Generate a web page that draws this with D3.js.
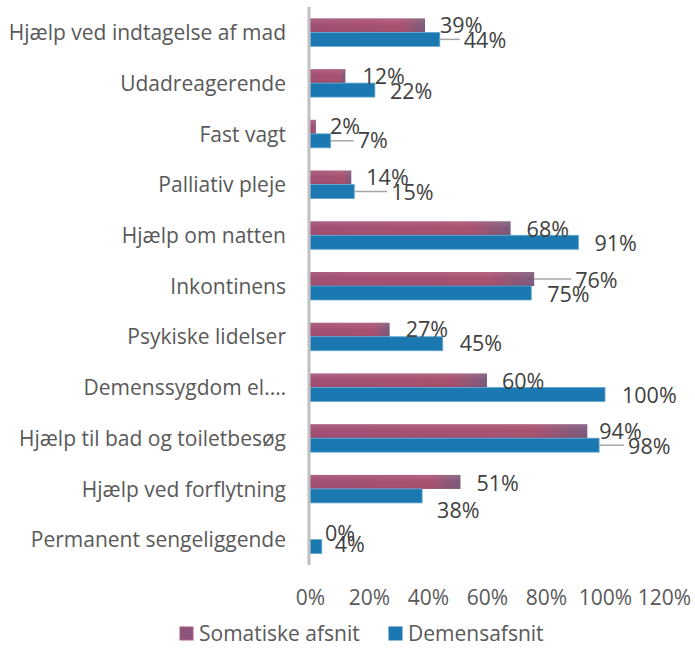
<!DOCTYPE html>
<html>
<head>
<meta charset="utf-8">
<script src="https://cdn.jsdelivr.net/npm/d3@7"></script>
<style>
  body { margin: 0; background: #fff; }
  text { font-family: "Open Sans", Lato, sans-serif; }
</style>
</head>
<body>
<div id="viz"></div>
<script>
// categories top -> bottom
const categories = [
  "Hjælp ved indtagelse af mad",
  "Udadreagerende",
  "Fast vagt",
  "Palliativ pleje",
  "Hjælp om natten",
  "Inkontinens",
  "Psykiske lidelser",
  "Demenssygdom el.…",
  "Hjælp til bad og toiletbesøg",
  "Hjælp ved forflytning",
  "Permanent sengeliggende"
];
const somatiske = [0.39, 0.12, 0.02, 0.14, 0.68, 0.76, 0.27, 0.60, 0.94, 0.51, 0.00];
const demens    = [0.44, 0.22, 0.07, 0.15, 0.91, 0.75, 0.45, 1.00, 0.98, 0.38, 0.04];
const seriesNames = ["Somatiske afsnit", "Demensafsnit"];
const xTicks = [0, 0.2, 0.4, 0.6, 0.8, 1.0, 1.2];

// manual label nudges (px) like the moved labels in the original
const nudgeS = [[0,0],[2,0],[-1,0],[0,0],[1,1],[26,1],[1,0],[0,1],[-3,0],[1,2],[0,1]];
const nudgeD = [[9,1],[0,1],[12,0],[22,1],[1,1],[1,1],[2,0],[2,1],[14,1],[0,15],[-2,-2]];

const W = 695, H = 660;
const FONT = "'Open Sans', Lato, sans-serif";
const svg = d3.select("#viz").append("svg")
  .attr("width", W).attr("height", H);

const x = d3.scaleLinear().domain([0, 1.2]).range([310, 664]);
const y = d3.scaleBand().domain(categories).range([7, 565]);
const barH = 14;

const defs = svg.append("defs");
const gS = defs.append("linearGradient").attr("id", "gradS");
gS.append("stop").attr("offset", "0%").attr("stop-color", "#a24d74");
gS.append("stop").attr("offset", "80%").attr("stop-color", "#a9506f");
gS.append("stop").attr("offset", "100%").attr("stop-color", "#7c5a7c");
const gSv = defs.append("linearGradient").attr("id", "gradSv")
  .attr("x1", 0).attr("y1", 0).attr("x2", 0).attr("y2", 1);
gSv.append("stop").attr("offset", "0%").attr("stop-color", "#fff").attr("stop-opacity", 0.12);
gSv.append("stop").attr("offset", "50%").attr("stop-color", "#fff").attr("stop-opacity", 0);
gSv.append("stop").attr("offset", "100%").attr("stop-color", "#000").attr("stop-opacity", 0.08);

const rows = categories.map((c, i) => ({ c, s: somatiske[i], d: demens[i], i }));

// bars
svg.selectAll(".barS").data(rows).enter().append("rect")
  .attr("class", "barS")
  .attr("x", x(0))
  .attr("y", d => y(d.c) + y.bandwidth() / 2 - barH)
  .attr("width", d => x(d.s) - x(0))
  .attr("height", barH)
  .attr("fill", "url(#gradS)");
svg.selectAll(".barSv").data(rows).enter().append("rect")
  .attr("class", "barSv")
  .attr("x", x(0))
  .attr("y", d => y(d.c) + y.bandwidth() / 2 - barH)
  .attr("width", d => x(d.s) - x(0))
  .attr("height", barH)
  .attr("fill", "url(#gradSv)");

svg.selectAll(".barD").data(rows).enter().append("rect")
  .attr("class", "barD")
  .attr("x", x(0))
  .attr("y", d => y(d.c) + y.bandwidth() / 2)
  .attr("width", d => x(d.d) - x(0))
  .attr("height", barH)
  .attr("fill", "#1c78b0")
  .attr("stroke", "#62a9d4")
  .attr("stroke-width", 0.8);

// vertical axis line
svg.append("line")
  .attr("x1", x(0) - 1).attr("x2", x(0) - 1)
  .attr("y1", 7).attr("y2", 565)
  .attr("stroke", "#c0c0c0").attr("stroke-width", 3);

// data labels
const gap = 15;
const fmt = d3.format(".0%");
function labels(key, off, nudge, cls) {
  const g = svg.append("g");
  rows.forEach(d => {
    const v = d[key];
    const cy = y(d.c) + y.bandwidth() / 2 + off;
    const n = nudge[d.i];
    const lx = x(v) + gap + n[0];
    const ly = cy + n[1];
    if (n[0] > 8) {
      g.append("line")
        .attr("x1", x(v)).attr("x2", lx - 4)
        .attr("y1", cy).attr("y2", cy)
        .attr("stroke", "#a6a6a6").attr("stroke-width", 1.5);
    }
    g.append("text")
      .attr("class", cls)
      .attr("x", lx).attr("y", ly)
      .attr("dy", "0.35em")
      .attr("font-size", 21.5)
      .attr("fill", "#404040")
      .text(fmt(v));
  });
}
labels("s", -barH / 2, nudgeS, "lblS");
labels("d", barH / 2, nudgeD, "lblD");

// category axis
const yAxis = svg.append("g")
  .attr("transform", `translate(${x(0)},1)`)
  .call(d3.axisLeft(y).tickSize(0).tickPadding(24));
yAxis.select(".domain").remove();
yAxis.selectAll("text")
  .attr("font-size", 21)
  .attr("font-family", FONT)
  .attr("fill", "#595959");

// x axis tick labels
const xAxis = svg.append("g")
  .attr("transform", "translate(0,590)")
  .call(d3.axisBottom(x).tickValues(xTicks).tickFormat(fmt).tickSize(0).tickPadding(0));
xAxis.select(".domain").remove();
xAxis.selectAll("text")
  .attr("font-size", 21)
  .attr("font-family", FONT)
  .attr("fill", "#595959");

// legend
const legend = svg.append("g").attr("transform", "translate(180,627)");
const legX = [0, 209];
const legFill = ["#8a5578", "#1c78b0"];
const legStroke = ["#b25d84", "#1c78b0"];
seriesNames.forEach((name, k) => {
  const lg = legend.append("g").attr("transform", `translate(${legX[k]},0)`);
  lg.append("rect").attr("width", 13).attr("height", 13)
    .attr("fill", legFill[k]).attr("stroke", legStroke[k]);
  lg.append("text").attr("x", 19).attr("y", 7).attr("dy", "0.35em")
    .attr("font-size", 21).attr("fill", "#595959").text(name);
});
</script>
</body>
</html>
